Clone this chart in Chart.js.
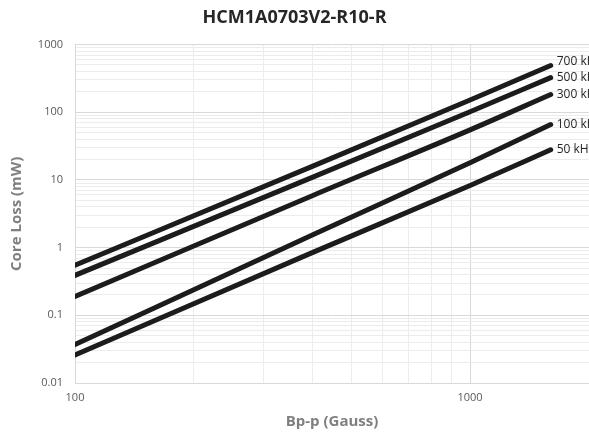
<!DOCTYPE html>
<html>
<head>
<meta charset="utf-8">
<script src="https://cdn.jsdelivr.net/npm/chart.js@4"></script>
<style>
html,body{margin:0;padding:0;background:#fff;}
#wrap{width:589px;height:438px;}
</style>
</head>
<body>
<div id="wrap"><canvas id="c" width="589" height="438"></canvas></div>
<script>
// ---- data ----
const chartTitle = 'HCM1A0703V2-R10-R';
const xTitle = 'Bp-p (Gauss)';
const yTitle = 'Core Loss (mW)';
const fluxB = [100, 400, 1000, 1600];
const loss700k = [0.55, 16, 152, 490];
const loss500k = [0.39, 11, 102, 325];
const loss300k = [0.19, 5.9, 55, 183];
const loss100k = [0.037, 1.55, 18, 66];
const loss50k = [0.026, 0.85, 8.3, 27.9];
const seriesNames = ['700 kHz', '500 kHz', '300 kHz', '100 kHz', '50 kHz'];
const seriesValues = [loss700k, loss500k, loss300k, loss100k, loss50k];
const xTicks = [100,200,300,400,500,600,700,800,900,1000,2000];
const xTickLabels = [100, 1000];
const yTickLabels = [0.01, 0.1, 1, 10, 100, 1000];

const FONT = '"Open Sans", "Liberation Sans", sans-serif';

function decadeTicks(min, max) {
  const t = [];
  for (let e = Math.round(Math.log10(min)); e < Math.round(Math.log10(max)); e++) {
    for (let m = 1; m <= 9; m++) t.push(+(m * Math.pow(10, e)).toPrecision(6));
  }
  t.push(max);
  return t;
}
function isMajor(v) {
  const l = Math.log10(v);
  return Math.abs(l - Math.round(l)) < 1e-9;
}

const endLabels = {
  id: 'endLabels',
  afterDatasetsDraw(chart) {
    const ctx = chart.ctx;
    ctx.save();
    ctx.font = '12px ' + FONT;
    ctx.fillStyle = '#262626';
    ctx.textAlign = 'left';
    ctx.textBaseline = 'middle';
    chart.data.datasets.forEach((ds, i) => {
      const meta = chart.getDatasetMeta(i);
      const p = meta.data[meta.data.length - 1];
      ctx.fillText(ds.label, p.x + 6, p.y - (i === 0 ? 4 : 0));
    });
    ctx.restore();
  }
};

new Chart(document.getElementById('c'), {
  type: 'line',
  data: {
    datasets: seriesValues.map((vals, i) => ({
      label: seriesNames[i],
      data: fluxB.map((b, j) => ({x: b, y: vals[j]})),
      borderColor: '#1c1c1c',
      borderWidth: 5,
      borderCapStyle: 'round',
      pointRadius: 0,
      cubicInterpolationMode: 'monotone',
      fill: false
    }))
  },
  options: {
    responsive: false,
    animation: false,
    devicePixelRatio: 1,
    layout: {padding: {left: 0, right: 0, top: 0, bottom: 0}},
    plugins: {
      legend: {display: false},
      tooltip: {enabled: false},
      title: {
        display: true,
        text: chartTitle,
        color: '#262626',
        font: {family: FONT, size: 18, weight: 'bold'},
        padding: {top: 7, bottom: 16}
      }
    },
    scales: {
      x: {
        type: 'logarithmic',
        min: 100,
        max: 2000,
        afterBuildTicks: s => { s.ticks = xTicks.map(v => ({value: v})); },
        afterFit: s => { s.height = 55; s.paddingLeft = 0; s.paddingRight = 0; },
        ticks: {
          autoSkip: false,
          maxRotation: 0,
          padding: 8,
          color: '#595959',
          font: {family: FONT, size: 11},
          callback: v => xTickLabels.includes(v) ? String(v) : ''
        },
        grid: {
          drawTicks: false,
          color: c => (c.tick && isMajor(c.tick.value)) ? '#d9d9d9' : '#ececec',
          lineWidth: 1
        },
        border: {color: '#d9d9d9'},
        title: {
          display: true, text: xTitle, color: '#7f7f7f',
          font: {family: FONT, size: 15, weight: 'bold'},
          padding: {top: 0, bottom: 7}
        }
      },
      y: {
        type: 'logarithmic',
        min: 0.01,
        max: 1000,
        afterBuildTicks: s => { s.ticks = decadeTicks(0.01, 1000).map(v => ({value: v})); },
        afterFit: s => { s.width = 75; s.paddingTop = 0; s.paddingBottom = 0; },
        ticks: {
          autoSkip: false,
          padding: 12,
          color: '#595959',
          font: {family: FONT, size: 11},
          callback: v => yTickLabels.some(t => Math.abs(t - v) / t < 1e-9) ? String(v) : ''
        },
        grid: {
          drawTicks: false,
          color: c => (c.tick && isMajor(c.tick.value)) ? '#d9d9d9' : '#ececec',
          lineWidth: 1
        },
        border: {color: '#d9d9d9'},
        title: {
          display: true, text: yTitle, color: '#7f7f7f',
          font: {family: FONT, size: 15, weight: 'bold'},
          padding: {top: 8, bottom: 0}
        }
      }
    }
  },
  plugins: [endLabels]
});
</script>
</body>
</html>
